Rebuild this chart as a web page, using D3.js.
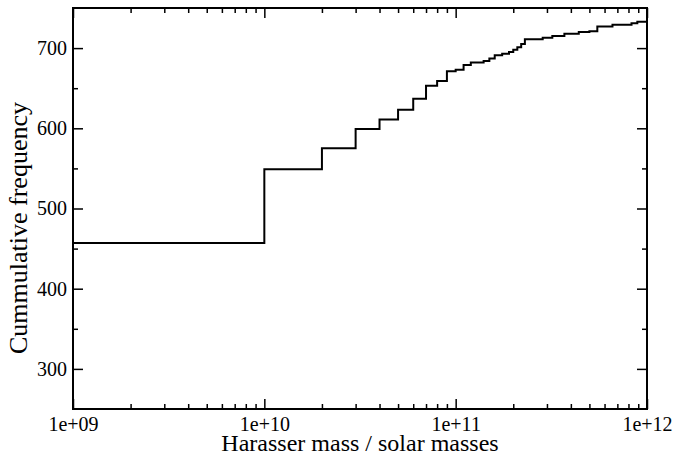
<!DOCTYPE html>
<html><head><meta charset="utf-8">
<script src="https://cdn.jsdelivr.net/npm/d3@7"></script>
<style>
html,body{margin:0;padding:0;background:#fff;}
svg{display:block;}
</style></head>
<body>
<svg id="chart" width="675" height="456"></svg>
<script>
// Step positions (harasser mass, solar masses) and cumulative count after each step
const stepMass = [1e9, 1e10, 2e10, 3e10, 4e10, 5e10, 6e10, 7e10, 8e10, 9e10,
  1e11, 1.1e11, 1.2e11, 1.4e11, 1.5e11, 1.6e11, 1.75e11, 1.9e11, 2.0e11, 2.1e11, 2.2e11, 2.3e11,
  2.85e11, 3.2e11, 3.7e11, 4.4e11, 5.0e11, 5.5e11, 6.6e11, 8.3e11, 8.9e11, 1e12];
const stepCount = [457, 549, 575, 599, 611, 623, 637, 653, 659, 671,
  673, 679, 682, 684, 687, 691, 693, 695, 698, 701, 705, 711,
  713, 715, 718, 720, 721, 727, 729, 731, 733, 733];
const xMajor = [1e9, 1e10, 1e11, 1e12];
const xMajorLabels = ["1e+09", "1e+10", "1e+11", "1e+12"];
const yMajor = [300, 400, 500, 600, 700];
const yMinor = [350, 450, 550, 650];
const xTitle = "Harasser mass / solar masses";
const yTitle = "Cummulative frequency";

const FONT = "'Liberation Serif', 'Times New Roman', Times, serif";
const L = 73, R = 647, T = 8, B = 409;
const svg = d3.select("#chart");
const x = d3.scaleLog().domain([1e9, 1e12]).range([L, R]);
const y = d3.scaleLinear().domain([250, 750]).range([B, T]);

const xMinor = [];
[1e9, 1e10, 1e11].forEach(d => { for (let k = 2; k <= 9; k++) xMinor.push(d * k); });

function styleAxis(g) {
  g.attr("font-family", FONT);
  g.select(".domain").remove();
  g.selectAll(".tick line").attr("stroke", "#000").attr("stroke-width", 1.5);
  g.selectAll("text").attr("fill", "#000").attr("font-family", FONT);
}
// bottom
svg.append("g").attr("transform", `translate(0,${B})`)
  .call(d3.axisBottom(x).tickValues(xMinor).tickSize(-5).tickFormat(""))
  .call(styleAxis);
svg.append("g").attr("transform", `translate(0,${B})`)
  .call(d3.axisBottom(x).tickValues(xMajor).tickSize(-10)
    .tickFormat((d, i) => xMajorLabels[i]))
  .call(styleAxis)
  .selectAll("text").attr("font-size", 20).attr("dy", null).attr("y", 22);
// top
svg.append("g").attr("transform", `translate(0,${T})`)
  .call(d3.axisTop(x).tickValues(xMinor).tickSize(-5).tickFormat("")).call(styleAxis);
svg.append("g").attr("transform", `translate(0,${T})`)
  .call(d3.axisTop(x).tickValues(xMajor).tickSize(-10).tickFormat("")).call(styleAxis);
// left
svg.append("g").attr("transform", `translate(${L},0)`)
  .call(d3.axisLeft(y).tickValues(yMinor).tickSize(-5).tickFormat("")).call(styleAxis);
svg.append("g").attr("transform", `translate(${L},0)`)
  .call(d3.axisLeft(y).tickValues(yMajor).tickSize(-10).tickFormat(d3.format("d")))
  .call(styleAxis)
  .selectAll("text").attr("font-size", 20).attr("x", -6);
// right
svg.append("g").attr("transform", `translate(${R},0)`)
  .call(d3.axisRight(y).tickValues(yMinor).tickSize(-5).tickFormat("")).call(styleAxis);
svg.append("g").attr("transform", `translate(${R},0)`)
  .call(d3.axisRight(y).tickValues(yMajor).tickSize(-10).tickFormat("")).call(styleAxis);

// frame
svg.append("rect").attr("x", L).attr("y", T).attr("width", R - L).attr("height", B - T)
  .attr("fill", "none").attr("stroke", "#000").attr("stroke-width", 2);

// step line
const pts = stepMass.map((m, i) => [m, stepCount[i]]);
const line = d3.line().x(d => x(d[0])).y(d => y(d[1])).curve(d3.curveStepAfter);
svg.append("path").datum(pts).attr("d", line)
  .attr("fill", "none").attr("stroke", "#000").attr("stroke-width", 2);

// titles
svg.append("text").attr("x", (L + R) / 2).attr("y", 451).attr("text-anchor", "middle")
  .attr("font-family", FONT).attr("font-size", 24).text(xTitle);
svg.append("text").attr("transform", `translate(27,228) rotate(-90)`)
  .attr("font-family", FONT).attr("text-anchor", "middle").attr("font-size", 26).text(yTitle);
</script>
</body></html>
